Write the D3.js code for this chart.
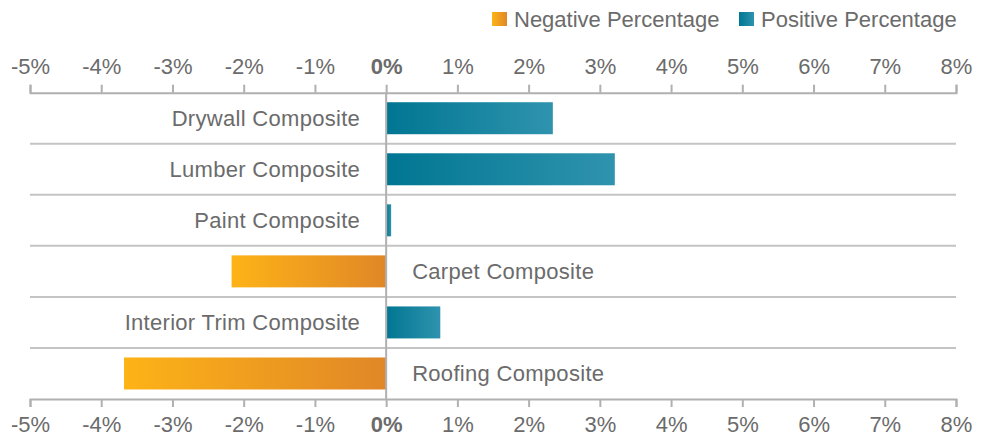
<!DOCTYPE html>
<html>
<head>
<meta charset="utf-8">
<script src="https://cdn.jsdelivr.net/npm/d3@7"></script>
<style>
  body { margin: 0; background: #fff; }
  text { font-family: "Liberation Sans", Arial, sans-serif; fill: #6b6b6b; }
</style>
</head>
<body>
<svg id="chart" width="987" height="443"></svg>
<script>
// Composite price changes, percent
const categories = [
  "Drywall Composite",
  "Lumber Composite",
  "Paint Composite",
  "Carpet Composite",
  "Interior Trim Composite",
  "Roofing Composite"
];
const values = [2.34, 3.21, 0.07, -2.17, 0.76, -3.68];
const tickValues = [-5, -4, -3, -2, -1, 0, 1, 2, 3, 4, 5, 6, 7, 8];
const legendLabels = ["Negative Percentage", "Positive Percentage"];

const svg = d3.select("#chart");
const x = d3.scaleLinear().domain([-5, 8]).range([30, 956]);
const y = d3.scaleBand().domain(categories).range([92.7, 399]);
const barH = 32;
const fontSize = "22px";
const gridColor = "#c4c4c4";
const axisColor = "#b0b0b0";

/* gradients */
const defs = svg.append("defs");
function gradient(id, from, to) {
  const g = defs.append("linearGradient").attr("id", id)
    .attr("x1", 0).attr("x2", 1).attr("y1", 0).attr("y2", 0);
  g.append("stop").attr("offset", 0).attr("stop-color", from);
  g.append("stop").attr("offset", 1).attr("stop-color", to);
}
gradient("posGrad", "#007692", "#2f93ae");
gradient("negGrad", "#fdb317", "#e08727");

/* row separators */
svg.append("g")
  .selectAll("line")
  .data(categories.slice(1))
  .join("line")
  .attr("x1", x(-5))
  .attr("x2", x(8))
  .attr("y1", d => y(d))
  .attr("y2", d => y(d))
  .attr("stroke", gridColor)
  .attr("stroke-width", 2);

/* bars */
svg.append("g")
  .selectAll("rect")
  .data(values)
  .join("rect")
  .attr("x", d => x(Math.min(0, d)))
  .attr("width", d => Math.abs(x(d) - x(0)))
  .attr("y", (d, i) => y(categories[i]) + (y.bandwidth() - barH) / 2)
  .attr("height", barH)
  .attr("fill", d => (d < 0 ? "url(#negGrad)" : "url(#posGrad)"));

/* category labels on the opposite side of zero */
svg.append("g")
  .selectAll("text")
  .data(values)
  .join("text")
  .attr("x", d => (d < 0 ? x(0) + 26 : x(0) - 26))
  .attr("y", (d, i) => y(categories[i]) + y.bandwidth() / 2)
  .attr("dy", "0.36em")
  .attr("text-anchor", d => (d < 0 ? "start" : "end"))
  .style("font-size", fontSize)
  .style("letter-spacing", "0.3px")
  .text((d, i) => categories[i]);

/* axes */
function styleAxis(g) {
  g.select(".domain").attr("stroke", axisColor).attr("stroke-width", 2);
  g.selectAll(".tick line").attr("stroke", axisColor).attr("stroke-width", 2);
  g.selectAll(".tick text")
    .style("font-size", fontSize)
    .attr("fill", "#6b6b6b")
    .style("font-weight", d => (d === 0 ? "bold" : "normal"));
}
const fmt = d => d + "%";

svg.append("g")
  .attr("transform", `translate(0,${y.range()[0]})`)
  .call(d3.axisTop(x).tickValues(tickValues).tickFormat(fmt)
    .tickSize(8).tickSizeOuter(8).tickPadding(11))
  .call(styleAxis);

svg.append("g")
  .attr("transform", `translate(0,${y.range()[1]})`)
  .call(d3.axisBottom(x).tickValues(tickValues).tickFormat(fmt)
    .tickSize(8).tickSizeOuter(8).tickPadding(9))
  .call(styleAxis);

/* zero line */
svg.append("line")
  .attr("x1", x(0)).attr("x2", x(0))
  .attr("y1", y.range()[0]).attr("y2", y.range()[1])
  .attr("stroke", axisColor)
  .attr("stroke-width", 2);

/* legend */
const legend = svg.append("g");
const legendItems = [
  { label: legendLabels[0], fill: "url(#negGrad)", x: 492 },
  { label: legendLabels[1], fill: "url(#posGrad)", x: 739 }
];
legendItems.forEach(item => {
  legend.append("rect")
    .attr("x", item.x).attr("y", 12)
    .attr("width", 15).attr("height", 14)
    .attr("fill", item.fill);
  legend.append("text")
    .attr("x", item.x + 22).attr("y", 19)
    .attr("dy", "0.36em")
    .style("font-size", fontSize)
    .text(item.label);
});
</script>
</body>
</html>
